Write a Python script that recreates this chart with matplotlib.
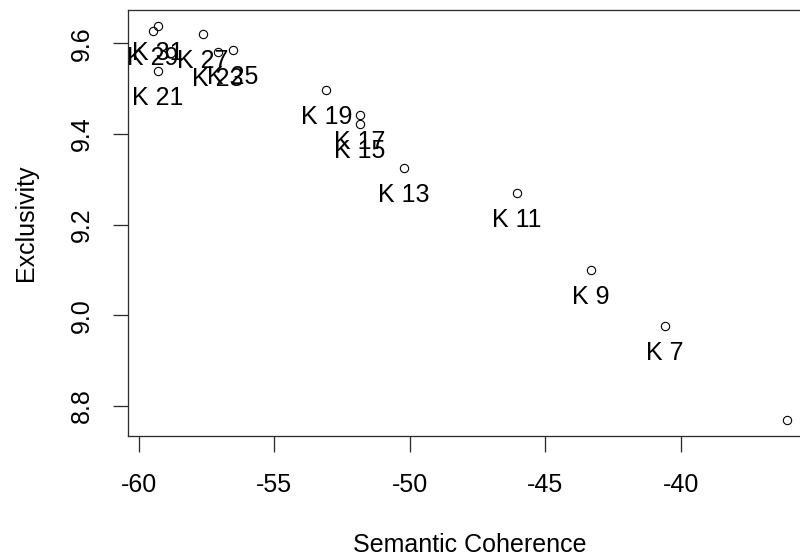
import matplotlib
matplotlib.use("Agg")
import matplotlib.pyplot as plt
from matplotlib import font_manager as fm
from matplotlib.transforms import offset_copy

# Number of topics K and the corresponding model diagnostics
k_values = [5, 7, 9, 11, 13, 15, 17, 19, 21, 23, 25, 27, 29, 31]
semantic_coherence = [-36.08, -40.58, -43.32, -46.05, -50.22, -51.85, -51.85,
                      -53.08, -59.30, -57.08, -56.53, -57.64, -59.48, -59.30]
exclusivity = [8.769, 8.977, 9.099, 9.270, 9.325, 9.423, 9.441,
               9.498, 9.540, 9.580, 9.585, 9.621, 9.628, 9.639]
point_labels = [f"K {k}" for k in k_values]

x_ticks = [-60, -55, -50, -45, -40]
x_tick_labels = ["-60", "-55", "-50", "-45", "-40"]
y_ticks = [8.8, 9.0, 9.2, 9.4, 9.6]
y_tick_labels = ["8.8", "9.0", "9.2", "9.4", "9.6"]

DPI = 100
W, H = 800, 558


def pt(pixels):
    """Convert a length in pixels to points."""
    return pixels * 72.0 / DPI


def font_available(name):
    try:
        fm.findfont(fm.FontProperties(family=name), fallback_to_default=False)
        return True
    except ValueError:
        return False


if font_available("Liberation Sans Narrow"):
    family, fs_px = "Liberation Sans Narrow", 29
else:
    family, fs_px = "Liberation Sans", 25
plt.rcParams["font.family"] = [family, "DejaVu Sans"]
fs = pt(fs_px)

line_col = "#2b2b2b"
text_col = "#000000"

fig = plt.figure(figsize=(W / DPI, H / DPI), dpi=DPI)
fig.patch.set_facecolor("white")

# plot region in pixels (the right edge runs past the canvas)
left_px, right_px, top_px, bottom_px = 127.7, 812.3, 10.0, 435.7
ax = fig.add_axes([left_px / W, (H - bottom_px) / H,
                   (right_px - left_px) / W, (bottom_px - top_px) / H])

# R-style axis ranges: data range extended by 4% on each side
xr = max(semantic_coherence) - min(semantic_coherence)
yr = max(exclusivity) - min(exclusivity)
ax.set_xlim(min(semantic_coherence) - 0.04 * xr, max(semantic_coherence) + 0.04 * xr)
ax.set_ylim(min(exclusivity) - 0.04 * yr, max(exclusivity) + 0.04 * yr)

ax.plot(semantic_coherence, exclusivity, linestyle="none", marker="o",
        markerfacecolor="none", markeredgecolor="black",
        markersize=pt(8.3), markeredgewidth=pt(1.1))

# labels sit below each point and are clipped to the plot region
label_offset_px = 25 + 0.358 * fs_px
label_tr = offset_copy(ax.transData, fig=fig, x=0, y=-label_offset_px, units="dots")
for xv, yv, lab in zip(semantic_coherence, exclusivity, point_labels):
    ax.text(xv, yv, lab, transform=label_tr, ha="center", va="baseline",
            fontsize=fs, color=text_col, clip_on=True)

for side in ["left", "bottom", "top", "right"]:
    ax.spines[side].set_color(line_col)
    ax.spines[side].set_linewidth(pt(1.3))

tick_len_px = 15.5
ax.tick_params(axis="both", direction="out", length=pt(tick_len_px),
               width=pt(1.3), color=line_col, labelcolor=text_col,
               labelsize=fs)
ax.tick_params(axis="x", pad=pt(492 - bottom_px - tick_len_px))
ax.tick_params(axis="y", pad=pt(left_px - tick_len_px - 89))

ax.set_xticks(x_ticks, labels=x_tick_labels, va="baseline")
ax.set_yticks(y_ticks, labels=y_tick_labels, rotation=90,
              rotation_mode="anchor", ha="center", va="baseline")

ax.set_xlabel("Semantic Coherence", fontsize=fs, color=text_col, va="baseline")
ax.xaxis.set_label_coords(0.5, (bottom_px - 552) / (bottom_px - top_px))
ax.set_ylabel("Exclusivity", fontsize=fs, color=text_col, va="baseline")
ax.yaxis.set_label_coords((33 - left_px) / (right_px - left_px), 0.5)

fig.savefig("out.png", dpi=DPI, facecolor="white")
